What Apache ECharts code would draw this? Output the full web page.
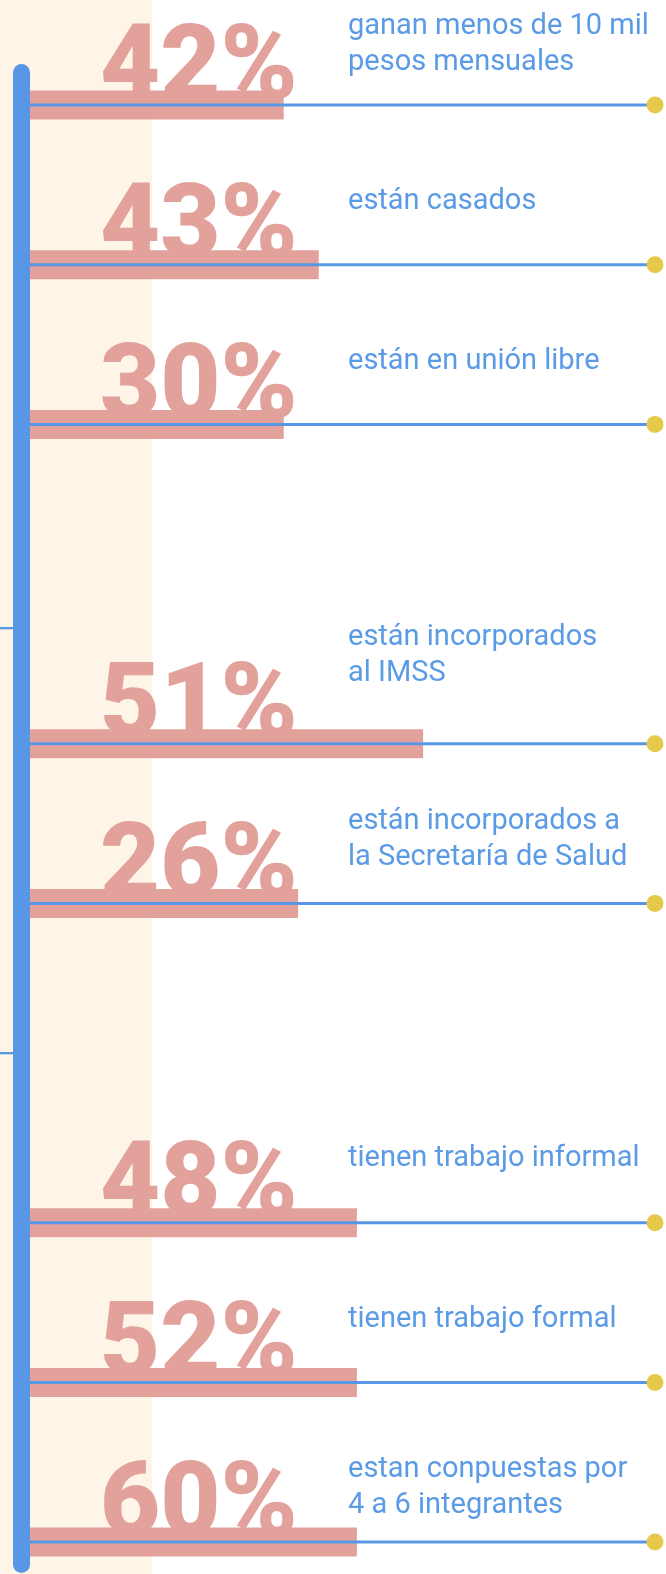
<!DOCTYPE html>
<html>
<head>
<meta charset="utf-8">
<script src="https://cdn.jsdelivr.net/npm/echarts@6/dist/echarts.min.js"></script>
<style>
  html, body { margin: 0; padding: 0; background: #ffffff; }
  #chart { width: 666px; height: 1574px; }
</style>
</head>
<body>
<div id="chart"></div>
<script>
// ---- data ----
const categories = [
  'ganan menos de 10 mil\npesos mensuales',
  'están casados',
  'están en unión libre',
  '',
  'están incorporados\nal IMSS',
  'están incorporados a\nla Secretaría de Salud',
  '',
  'tienen trabajo informal',
  'tienen trabajo formal',
  'estan conpuestas por\n4 a 6 integrantes'
];
const percentLabels = ['42%', '43%', '30%', '', '51%', '26%', '', '48%', '52%', '60%'];
const barLengths = [40.6, 46.2, 40.6, null, 62.9, 42.9, null, 52.3, 52.3, 52.3];
const lineReach = [100, 100, 100, null, 100, 100, null, 100, 100, 100];

// ---- layout (pixels, not data) ----
const textLift = [35, 55, 55, 0, 62, 38, 0, 56, 55, 29];

const PINK = '#E2A29B';
const BLUE = '#5897E5';
const TEXT_BLUE = '#5B9BE6';
const YELLOW = '#E6C84B';
const CREAM = '#FEF5E8';

const chart = echarts.init(document.getElementById('chart'), null, { renderer: 'canvas' });

const yAxisBase = {
  type: 'category',
  data: categories,
  inverse: true,
  show: false,
  boundaryGap: true
};

const option = {
  backgroundColor: '#ffffff',
  animation: false,
  grid: { left: 30, right: 11, top: 25.2, height: 1596.7, outerBoundsMode: 'none', containLabel: false },
  xAxis: { type: 'value', min: 0, max: 100, show: false },
  yAxis: [
    Object.assign({}, yAxisBase),
    Object.assign({}, yAxisBase)
  ],
  graphic: [
    { type: 'rect', z: -10, silent: true, shape: { x: 0, y: 0, width: 152, height: 1574 }, style: { fill: CREAM } },
    { type: 'rect', z: 50, silent: true, shape: { x: 13, y: 64, width: 17, height: 1509, r: 8.5 }, style: { fill: BLUE } },
    { type: 'rect', z: 50, silent: true, shape: { x: 0, y: 627, width: 13, height: 2.3 }, style: { fill: BLUE } },
    { type: 'rect', z: 50, silent: true, shape: { x: 0, y: 1052, width: 13, height: 2.3 }, style: { fill: BLUE } }
  ],
  series: [
    {
      type: 'bar',
      yAxisIndex: 0,
      z: 2,
      data: barLengths,
      barWidth: 29,
      itemStyle: { color: PINK },
      label: {
        show: true,
        position: [70, 33],
        verticalAlign: 'bottom',
        align: 'left',
        formatter: p => percentLabels[p.dataIndex],
        fontFamily: 'Roboto',
        fontWeight: 900,
        fontSize: 104,
        lineHeight: 104,
        color: PINK
      }
    },
    {
      type: 'bar',
      yAxisIndex: 1,
      z: 3,
      data: lineReach,
      barWidth: 3,
      itemStyle: { color: BLUE }
    },
    {
      type: 'scatter',
      z: 4,
      clip: false,
      symbol: 'circle',
      symbolSize: 17,
      itemStyle: { color: YELLOW, opacity: 1 },
      data: lineReach.map((v, i) => v == null ? null : {
        value: [v, i],
        label: {
          show: true,
          position: [-298.5, 19 - textLift[i]],
          verticalAlign: 'bottom',
          align: 'left',
          formatter: () => categories[i],
          fontFamily: 'Roboto',
          fontSize: 29,
          lineHeight: 36,
          color: TEXT_BLUE
        }
      })
    }
  ]
};
chart.setOption(option);
</script>
</body>
</html>
